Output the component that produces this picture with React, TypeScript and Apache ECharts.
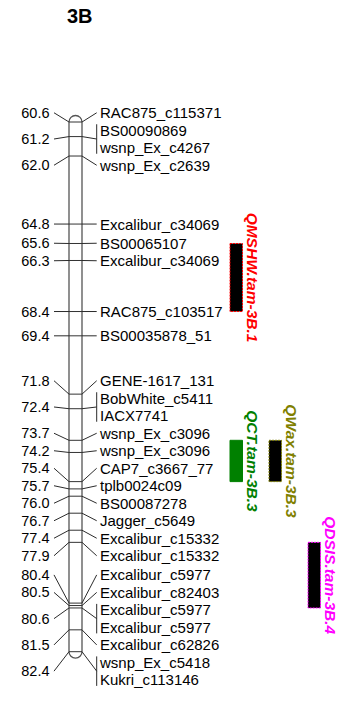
import React, { useEffect, useRef } from "react";
import * as echarts from "echarts";

// Linkage group 3B: marker positions (cM) and names, top to bottom
const markerPositions = [
  60.6, 61.2, 61.2, 62.0, 64.8, 65.6, 66.3, 68.4, 69.4, 71.8, 72.4, 72.4,
  73.7, 74.2, 75.4, 75.7, 76.0, 76.7, 77.4, 77.9, 80.4, 80.5, 80.6, 80.6,
  81.5, 82.4, 82.4,
];
const markerNames = [
  "RAC875_c115371", "BS00090869", "wsnp_Ex_c4267", "wsnp_Ex_c2639",
  "Excalibur_c34069", "BS00065107", "Excalibur_c34069", "RAC875_c103517",
  "BS00035878_51", "GENE-1617_131", "BobWhite_c5411", "IACX7741",
  "wsnp_Ex_c3096", "wsnp_Ex_c3096", "CAP7_c3667_77", "tplb0024c09",
  "BS00087278", "Jagger_c5649", "Excalibur_c15332", "Excalibur_c15332",
  "Excalibur_c5977", "Excalibur_c82403", "Excalibur_c5977", "Excalibur_c5977",
  "Excalibur_c62826", "wsnp_Ex_c5418", "Kukri_c113146",
];

// QTL intervals (cM)
const qtlNames = ["QMSHW.tam-3B.1", "QCT.tam-3B.3", "QWax.tam-3B.3", "QDSIS.tam-3B.4"];
const qtlStarts = [65.6, 73.7, 73.7, 77.9];
const qtlEnds = [68.4, 75.4, 75.4, 80.6];
const qtlColumns = [0, 0, 1, 2];
const qtlColors = ["#ff0000", "#008000", "#808000", "#ff00ff"];
const qtlFills = ["#000000", "#008000", "#000000", "#000000"];

const chromosomeTitle = "3B";

// Layout
const W = 350;
const H = 703;
const GRID_TOP = 122;
const GRID_BOTTOM = 51.3;
const CHR_LEFT = 69;
const CHR_RIGHT = 82;
const LEFT_TEXT_X = 49.5;
const LEFT_LINE_X = 54;
const RIGHT_LINE_X = 96.7;
const RIGHT_TEXT_X = 100;
const LABEL_GAP = 17.5;
const BRACKET_PAD = 6;
const BAR_X0 = 230;
const BAR_W = 12.5;
const COL_STEP = 39;
const QTL_LABEL_OFFSET = 10;
const FONT = "Arial, 'Liberation Sans', sans-serif";
const LINE_COLOR = "#2b2b2b";
const CHR_COLOR = "#555555";

// Loci: distinct positions with the indices of their markers
const loci: { pos: number; idx: number[] }[] = [];
markerPositions.forEach((p, i) => {
  const last = loci[loci.length - 1];
  if (last && last.pos === p) last.idx.push(i);
  else loci.push({ pos: p, idx: [i] });
});

// Spread label positions (pixels) so neighbours keep a minimum gap;
// overlapping clusters merge and centre on the span of their loci.
function spreadLabels(ys: number[], gap: number): number[] {
  let clusters: { a: number; b: number }[] = [];
  ys.forEach((y, i) => {
    const c = clusters[clusters.length - 1];
    if (c && ys[c.b] === y) c.b = i;
    else clusters.push({ a: i, b: i });
  });
  const first = (c: { a: number; b: number }) =>
    (ys[c.a] + ys[c.b]) / 2 - ((c.b - c.a) * gap) / 2;
  const lastY = (c: { a: number; b: number }) => first(c) + (c.b - c.a) * gap;
  let changed = true;
  while (changed) {
    changed = false;
    for (let k = 1; k < clusters.length; k++) {
      if (lastY(clusters[k - 1]) + gap > first(clusters[k]) + 1e-6) {
        clusters[k - 1] = { a: clusters[k - 1].a, b: clusters[k].b };
        clusters.splice(k, 1);
        changed = true;
        break;
      }
    }
  }
  const out: number[] = new Array(ys.length);
  clusters.forEach((c) => {
    const f = first(c);
    for (let i = c.a; i <= c.b; i++) out[i] = f + (i - c.a) * gap;
  });
  return out;
}

export default function App() {
  const ref = useRef<HTMLDivElement>(null);

  useEffect(() => {
    if (!ref.current) return;
    const chart = echarts.init(ref.current, undefined, { renderer: "svg" });

    const textStyle = (text: string, align: string, size: number) => ({
      text,
      fill: "#000",
      fontSize: size,
      fontFamily: FONT,
      align,
      verticalAlign: "middle",
    });

    chart.setOption({
      animation: false,
      title: {
        text: chromosomeTitle,
        left: 62,
        top: 1,
        textStyle: { fontSize: 20, fontWeight: "bold", fontFamily: FONT, color: "#000" },
      },
      grid: { left: 0, right: 0, top: GRID_TOP, bottom: GRID_BOTTOM },
      xAxis: { type: "value", min: 0, max: W, show: false },
      yAxis: {
        type: "value",
        min: markerPositions[0],
        max: markerPositions[markerPositions.length - 1],
        inverse: true,
        show: false,
      },
      series: [
        {
          // chromosome body with rounded ends
          type: "custom",
          clip: false,
          silent: true,
          data: [[0, markerPositions[0], markerPositions[markerPositions.length - 1]]],
          encode: { x: 0, y: [1, 2] },
          renderItem: (_p: any, api: any) => {
            const y0 = api.coord([0, api.value(1)])[1];
            const y1 = api.coord([0, api.value(2)])[1];
            const r = (CHR_RIGHT - CHR_LEFT) / 2;
            return {
              type: "rect",
              shape: { x: CHR_LEFT, y: y0 - r, width: CHR_RIGHT - CHR_LEFT, height: y1 - y0 + 2 * r, r },
              style: { fill: "#fff", stroke: CHR_COLOR, lineWidth: 1.3 },
            };
          },
        },
        {
          // marker ticks, connectors and labels
          type: "custom",
          clip: false,
          silent: true,
          data: loci.map((l) => [0, l.pos]),
          encode: { x: 0, y: 1 },
          renderItem: (params: any, api: any) => {
            const locus = loci[params.dataIndex];
            const ys = markerPositions.map((p) => api.coord([0, p])[1]);
            const labelYs = spreadLabels(ys, LABEL_GAP);
            const y = api.coord([0, locus.pos])[1];
            const ly = locus.idx.map((i) => labelYs[i]);
            const mid = (ly[0] + ly[ly.length - 1]) / 2;
            const line = (x1: number, y1: number, x2: number, y2: number, stroke = LINE_COLOR) => ({
              type: "line",
              shape: { x1, y1, x2, y2 },
              style: { stroke, lineWidth: 1 },
            });
            const children: any[] = [
              line(CHR_LEFT, y, CHR_RIGHT, y, "#333"),
              line(LEFT_LINE_X, mid, CHR_LEFT, y),
              line(CHR_RIGHT, y, RIGHT_LINE_X, mid),
              {
                type: "text",
                x: LEFT_TEXT_X,
                y: mid,
                style: textStyle(locus.pos.toFixed(1), "right", 14.5),
              },
            ];
            if (ly.length > 1) {
              children.push(
                line(RIGHT_LINE_X, ly[0] - BRACKET_PAD, RIGHT_LINE_X, ly[ly.length - 1] + BRACKET_PAD)
              );
            }
            locus.idx.forEach((mi, k) => {
              children.push({
                type: "text",
                x: RIGHT_TEXT_X,
                y: ly[k],
                style: textStyle(markerNames[mi], "left", 15),
              });
            });
            return { type: "group", children };
          },
        },
        {
          // QTL bars with vertical names
          type: "custom",
          clip: false,
          silent: true,
          data: qtlStarts.map((s, i) => [qtlColumns[i], s, qtlEnds[i]]),
          encode: { x: 0, y: [1, 2] },
          renderItem: (params: any, api: any) => {
            const i = params.dataIndex;
            const top = api.coord([0, api.value(1)])[1];
            const bot = api.coord([0, api.value(2)])[1];
            const x = BAR_X0 + api.value(0) * COL_STEP;
            const solid = qtlFills[i] === qtlColors[i];
            return {
              type: "group",
              children: [
                {
                  type: "rect",
                  shape: { x, y: top, width: BAR_W, height: bot - top },
                  style: {
                    fill: qtlFills[i],
                    stroke: qtlColors[i],
                    lineWidth: 1,
                    lineDash: solid ? null : [2, 1],
                  },
                },
                {
                  type: "text",
                  x: x + BAR_W + QTL_LABEL_OFFSET,
                  y: (top + bot) / 2,
                  rotation: -Math.PI / 2,
                  style: {
                    text: qtlNames[i],
                    fill: qtlColors[i],
                    fontSize: 15.5,
                    fontWeight: "bold",
                    fontStyle: "italic",
                    fontFamily: FONT,
                    align: "center",
                    verticalAlign: "middle",
                  },
                },
              ],
            };
          },
        },
      ],
    });

    return () => chart.dispose();
  }, []);

  return (
    <div
      ref={ref}
      style={{ position: "absolute", left: 0, top: 0, width: W, height: H, background: "#fff" }}
    />
  );
}
